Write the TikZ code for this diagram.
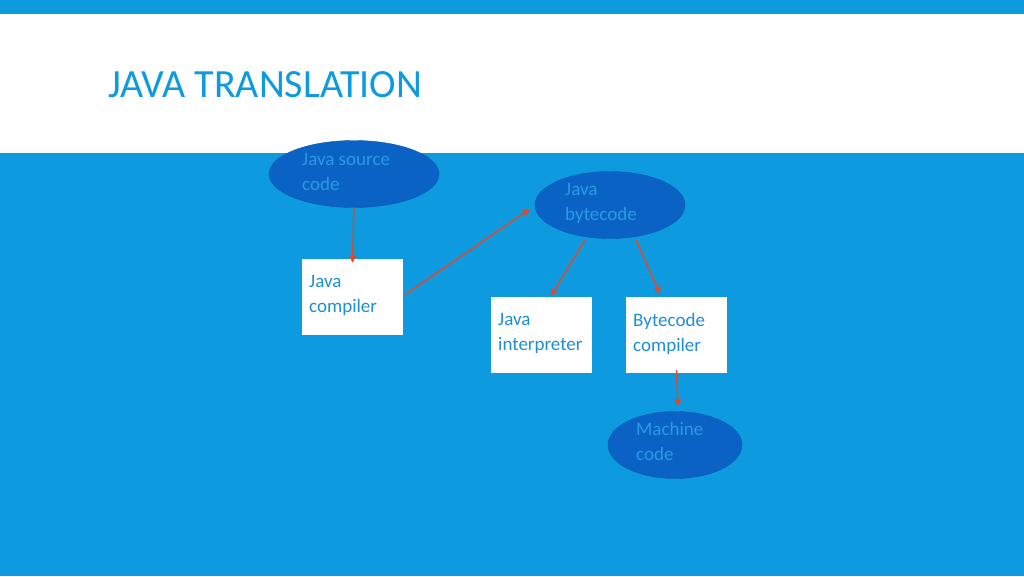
\documentclass[tikz,border=0pt]{standalone}
\usepackage{fontspec}
\setmainfont{Carlito}
\usetikzlibrary{shapes.geometric,arrows.meta}
\definecolor{bg}{HTML}{0D9ADF}
\definecolor{ell}{HTML}{0A62C4}
\definecolor{etxt}{HTML}{2A9BE4}
\definecolor{btxt}{HTML}{1E8FD2}
\definecolor{arr}{HTML}{E0492A}
\tikzset{x=1pt,y=-1pt,
 ov/.style={ellipse,fill=ell,draw=ell!90!black,minimum width=#1,minimum height=67pt,inner sep=0pt},
 bx/.style={fill=white,minimum width=101pt,minimum height=76pt,inner sep=0pt},
 lab/.style={font=\fontsize{19}{25}\selectfont,align=left,anchor=north west,inner sep=0pt},
 ar/.style={draw=arr,line width=1.5pt,-{Triangle[length=7pt,width=7pt]}}}
\begin{document}
\begin{tikzpicture}
\useasboundingbox (0,0) rectangle (1024,576);
\fill[bg] (0,0) rectangle (1024,576);
\fill[white] (0,14) rectangle (1024,153);
\node[anchor=west,text=bg,font=\fontsize{40}{40}\selectfont,inner sep=0pt] (title) at (108,85) {JAVA TRANSLATION};
\node[ov=170pt] (src) at (354,174) {};
\node[lab,text=etxt] at (302,153) {Java source\\code};
\node[ov=150pt] (bc) at (610,205) {};
\node[lab,text=etxt] at (565,183) {Java\\bytecode};
\node[ov=134pt] (mc) at (675,445) {};
\node[lab,text=etxt] at (636,422) {Machine\\code};
\node[bx] (comp) at (352.5,297) {};
\node[lab,text=btxt] at (309,275) {Java\\compiler};
\node[bx] (interp) at (541.5,335) {};
\node[lab,text=btxt] at (498,313) {Java\\interpreter};
\node[bx] (bcomp) at (676.5,335) {};
\node[lab,text=btxt] at (633,313) {Bytecode\\compiler};
\draw[ar] (src.south) -- ([yshift=-4pt]comp.north);
\draw[ar] (406,294) -- (530,209);
\draw[ar] (585,240) -- (551,296);
\draw[ar] (636,240) -- (660,294);
\draw[ar] ([yshift=3pt]bcomp.south) -- (678,406);
\end{tikzpicture}
\end{document}
